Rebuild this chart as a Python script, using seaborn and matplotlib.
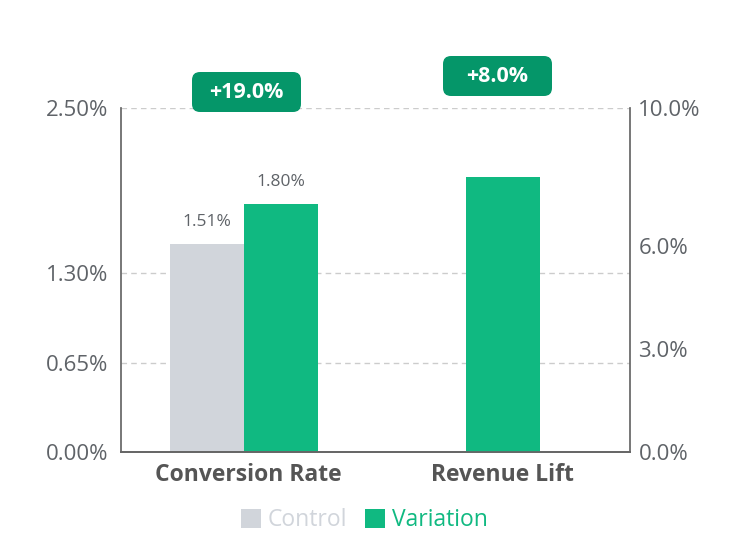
import matplotlib
matplotlib.use("Agg")
import matplotlib.pyplot as plt
import seaborn as sns
import pandas as pd
from matplotlib.patches import FancyBboxPatch, Patch

categories = ["Conversion Rate", "Revenue Lift"]
groups = ["Control", "Variation"]
conv_control = [1.51]
conv_variation = [1.80]
revenue_variation = [8.0]
left_ticks = [0.0, 0.65, 1.30, 2.50]
right_ticks = [0.0, 3.0, 6.0, 10.0]
badges = ["+19.0%", "+8.0%"]

ctrl_col = "#d1d5db"
var_col = "#10b981"
badge_col = "#059669"
txt_col = "#5f6368"

sns.set_theme(style="white")
plt.rcParams["font.family"] = ["Open Sans", "DejaVu Sans"]

conv_df = pd.DataFrame({
    "metric": ["Conversion Rate", "Conversion Rate"],
    "group": groups,
    "value": conv_control + conv_variation,
})
rev_df = pd.DataFrame({"metric": ["Revenue Lift"], "value": revenue_variation})

fig = plt.figure(figsize=(7.51, 5.45), dpi=100)
ax = fig.add_axes([0.161, 0.1706, 0.678, 0.6312])
ax2 = ax.twinx()

sns.barplot(data=conv_df, x="metric", y="value", hue="group", order=categories,
            palette=[ctrl_col, var_col], width=0.58, ax=ax, legend=False)
sns.barplot(data=rev_df, x="metric", y="value", order=categories,
            color=var_col, width=0.29, ax=ax2, saturation=1)
for i, p in enumerate(ax.patches[:2]):
    p.set_edgecolor("none")
    p.set_facecolor([ctrl_col, var_col][i])
    p.set_x(p.get_x() - 0.016)
for p in ax2.patches:
    p.set_edgecolor("none")
    p.set_facecolor(var_col)

ax.set_xlim(-0.5, 1.5)
ax.set_ylim(0, 2.5)
ax2.set_ylim(0, 10)
ax.set_yticks(left_ticks)
ax.set_yticklabels([f"{t:.2f}%" for t in left_ticks])
ax2.set_yticks(right_ticks)
ax2.set_yticklabels([f"{t:.1f}%" for t in right_ticks])
ax.set_xlabel("")
ax.set_ylabel("")
ax2.set_xlabel("")
ax2.set_ylabel("")

ax.tick_params(axis="y", length=0, pad=9, labelsize=16, labelcolor=txt_col)
ax2.tick_params(axis="y", length=0, pad=6, labelsize=16, labelcolor=txt_col)
ax.tick_params(axis="x", length=0, pad=8)
for lab in ax.get_xticklabels():
    lab.set_fontweight("bold")
    lab.set_fontsize(16.5)
    lab.set_color("#555555")

ax.grid(axis="y", linestyle=(0, (4, 3)), color="#cccccc", linewidth=1)
ax.set_axisbelow(True)
for a in (ax, ax2):
    a.spines["top"].set_visible(False)
    a.spines["left"].set_color("#666666")
    a.spines["right"].set_color("#666666")
    a.spines["bottom"].set_color("#666666")
ax2.spines["left"].set_visible(False)
ax.spines["right"].set_visible(False)

# value labels on the conversion bars
for p, v in zip(ax.patches[:2], conv_control + conv_variation):
    ax.annotate(f"{v:.2f}%", (p.get_x() + p.get_width() / 2, p.get_height()),
                xytext=(0, 10), textcoords="offset points", ha="center", va="bottom",
                fontsize=12.5, color=txt_col)

# lift badges
badge_pos = [(1.92, 4.33), (4.43, 4.49)]
for (bx, by), txt in zip(badge_pos, badges):
    box = FancyBboxPatch((bx, by), 1.09, 0.40, boxstyle="round,pad=0,rounding_size=0.08",
                         transform=fig.dpi_scale_trans, facecolor=badge_col,
                         edgecolor="none", clip_on=False)
    fig.patches.append(box)
    fig.text((bx + 0.545) / 7.51, (by + 0.20) / 5.45, txt, ha="center", va="center",
             color="white", fontsize=15.5, fontweight="bold")

handles = [Patch(facecolor=ctrl_col, edgecolor="none"), Patch(facecolor=var_col, edgecolor="none")]
fig.legend(handles, groups, loc="center", bbox_to_anchor=(0.485, 0.045), ncol=2,
           frameon=False, fontsize=16.5, handlelength=0.85, handleheight=0.85,
           handletextpad=0.3, columnspacing=0.8, labelcolor=[ctrl_col, var_col])

fig.savefig("out.png", dpi=100)
